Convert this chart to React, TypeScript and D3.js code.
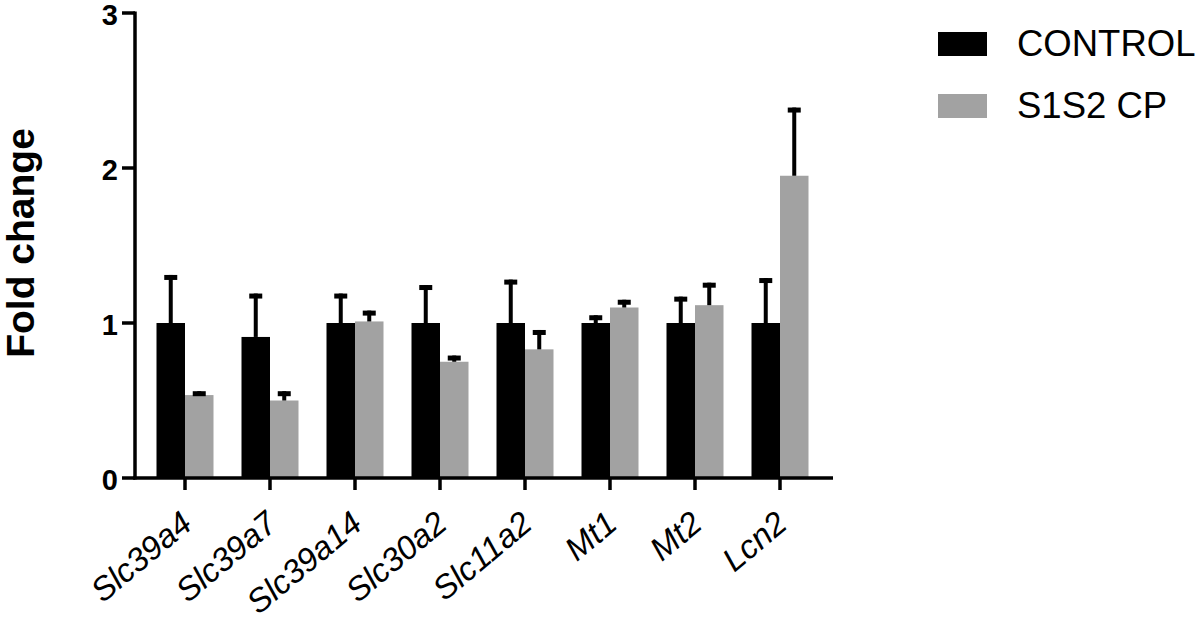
import React from 'react';
import * as d3 from 'd3';

const genes = ['Slc39a4', 'Slc39a7', 'Slc39a14', 'Slc30a2', 'Slc11a2', 'Mt1', 'Mt2', 'Lcn2'];
const seriesNames = ['CONTROL', 'S1S2 CP'];
const controlMean = [1.0, 0.91, 1.0, 1.0, 1.0, 1.0, 1.0, 1.0];
const controlErr = [1.31, 1.19, 1.19, 1.245, 1.28, 1.05, 1.17, 1.29];
const cpMean = [0.535, 0.5, 1.01, 0.75, 0.83, 1.1, 1.115, 1.95];
const cpErr = [0.56, 0.56, 1.08, 0.79, 0.955, 1.15, 1.26, 2.39];
const yTicks = [0, 1, 2, 3];

const colors = ['#000000', '#a2a2a2'];
const font = "'Liberation Sans', Arial, sans-serif";

const App = () => {
  const width = 1200;
  const height = 623;

  const y = d3.scaleLinear().domain([0, 3]).range([478, 13]);
  const x0 = d3.scaleBand().domain(genes).range([142.5, 822.5]).padding(0);
  const half = x0.bandwidth() / 2;
  const x1 = d3.scaleBand().domain(seriesNames).range([half - 28.5, half + 28.5]).padding(0);

  const means = [controlMean, cpMean];
  const errs = [controlErr, cpErr];

  return (
    <svg width={width} height={height} style={{ position: 'absolute', left: 0, top: 0 }}>
      <rect width={width} height={height} fill="#fff" />
      {/* bars + SEM whiskers */}
      {genes.map((g, i) => (
        <g key={g} transform={`translate(${x0(g)},0)`}>
          {seriesNames.map((s, k) => {
            const bx = x1(s) as number;
            const bw = x1.bandwidth();
            const cx = bx + bw / 2;
            return (
              <g key={s}>
                <rect x={bx} y={y(means[k][i])} width={bw} height={y(0) - y(means[k][i])} fill={colors[k]} />
                <rect x={cx - 2} y={y(errs[k][i])} width={4} height={y(means[k][i]) - y(errs[k][i])} fill="#000" />
                <rect x={cx - 6.5} y={y(errs[k][i])} width={13} height={5} fill="#000" />
              </g>
            );
          })}
        </g>
      ))}

      {/* y axis */}
      <line x1={135} x2={135} y1={y(3) - 1.5} y2={y(0) + 1.5} stroke="#000" strokeWidth={3.5} />
      {yTicks.map((t) => (
        <g key={t}>
          <line x1={122} x2={135} y1={y(t)} y2={y(t)} stroke="#000" strokeWidth={3.5} />
          <text x={118} y={y(t)} dy="0.42em" textAnchor="end" fontFamily={font} fontWeight="bold" fontSize={29}>
            {t}
          </text>
        </g>
      ))}
      <text
        transform={`translate(34, 243) rotate(-90)`}
        textAnchor="middle"
        fontFamily={font}
        fontWeight="bold"
        fontSize={39}
      >
        Fold change
      </text>

      {/* x axis */}
      <line x1={133.25} x2={833} y1={y(0)} y2={y(0)} stroke="#000" strokeWidth={3.5} />
      {genes.map((g) => {
        const cx = (x0(g) as number) + half;
        return (
          <g key={g}>
            <line x1={cx} x2={cx} y1={y(0)} y2={y(0) + 12} stroke="#000" strokeWidth={3.5} />
            <text
              transform={`translate(${cx + 9}, ${y(0) + 49}) rotate(-40)`}
              textAnchor="end"
              fontFamily={font}
              fontStyle="italic"
              fontSize={33}
            >
              {g}
            </text>
          </g>
        );
      })}

      {/* legend */}
      {seriesNames.map((s, k) => (
        <g key={s} transform={`translate(938, ${32 + k * 62})`}>
          <rect width={49} height={24} fill={colors[k]} />
          <text x={79} y={24} fontFamily={font} fontSize={36.5}>
            {s}
          </text>
        </g>
      ))}
    </svg>
  );
};

export default App;
